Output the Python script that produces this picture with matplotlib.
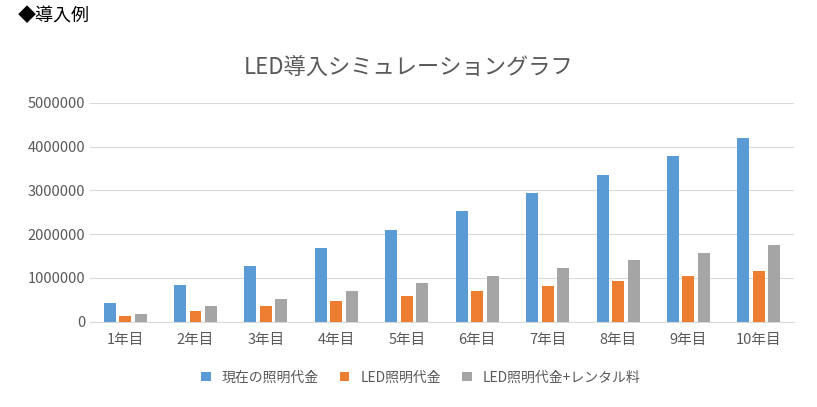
import matplotlib
matplotlib.use("Agg")
import matplotlib.pyplot as plt
import numpy as np

plt.rcParams['font.family'] = ['Noto Sans CJK JP', 'DejaVu Sans']

categories = ["1年目","2年目","3年目","4年目","5年目","6年目","7年目","8年目","9年目","10年目"]
current = [420000,840000,1260000,1680000,2100000,2520000,2940000,3360000,3780000,4200000]
led = [116000,232000,348000,464000,580000,696000,812000,928000,1044000,1160000]
led_rental = [175000,350000,525000,700000,875000,1050000,1225000,1400000,1575000,1750000]
series_names = ["現在の照明代金","LED照明代金","LED照明代金+レンタル料"]
colors = ["#5B9BD5","#ED7D31","#A5A5A5"]

fig = plt.figure(figsize=(8.17,4.07), dpi=100)
ax = fig.add_axes([0.11, 0.21, 0.862, 0.537])
x = np.arange(len(categories))
w = 0.17
for i,(vals,name,c) in enumerate(zip([current,led,led_rental],series_names,colors)):
    ax.bar(x+(i-1)*0.22, vals, w, color=c, label=name, zorder=3)
ax.set_xlim(-0.5, len(categories)-0.5)
ax.set_ylim(0, 5000000)
ax.set_yticks(range(0,5000001,1000000))
ax.set_yticklabels([str(v) for v in range(0,5000001,1000000)])
ax.set_xticks(x)
ax.set_xticklabels(categories)
ax.grid(axis='y', color='#D9D9D9', lw=0.8, zorder=0)
for s in ['top','right','left']:
    ax.spines[s].set_visible(False)
ax.spines['bottom'].set_color('#D9D9D9')
ax.tick_params(length=0, colors='#595959', labelsize=10.5)
ax.tick_params(axis='x', pad=8)
fig.text(0.5, 0.835, "LED導入シミュレーショングラフ", color='#595959', fontsize=16, ha='center', va='center')
fig.text(0.022, 0.96, "◆導入例", fontsize=13, va='center', color='black')
fig.legend(loc='center', bbox_to_anchor=(0.515, 0.073), ncol=3, frameon=False,
           fontsize=10, handlelength=0.7, handleheight=0.7, columnspacing=1.5,
           labelcolor='#595959')
fig.savefig("out.png", dpi=100)
